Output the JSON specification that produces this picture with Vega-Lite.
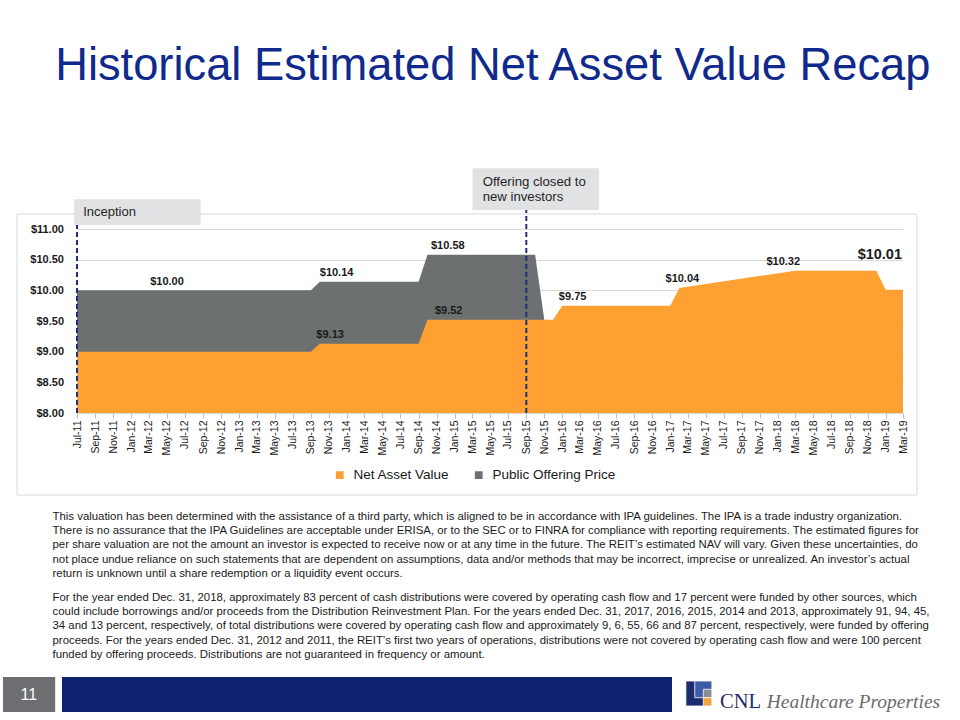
{
  "$schema": "https://vega.github.io/schema/vega-lite/v6.json",
  "width": 826,
  "height": 184,
  "autosize": {"type": "none"},
  "padding": {"left": 77, "top": 229, "right": 57, "bottom": 307},
  "background": "#ffffff",
  "resolve": {"axis": {"x": "independent", "y": "independent"}},
  "datasets": {
    "prices": [
      {"date": "2011-07-01", "series": "Public Offering Price", "price": 10.00},
      {"date": "2013-09-01", "series": "Public Offering Price", "price": 10.00},
      {"date": "2013-10-01", "series": "Public Offering Price", "price": 10.14},
      {"date": "2014-09-01", "series": "Public Offering Price", "price": 10.14},
      {"date": "2014-10-01", "series": "Public Offering Price", "price": 10.58},
      {"date": "2015-10-01", "series": "Public Offering Price", "price": 10.58},
      {"date": "2015-11-01", "series": "Public Offering Price", "price": 9.52},
      {"date": "2011-07-01", "series": "Net Asset Value", "price": 9.00},
      {"date": "2013-09-01", "series": "Net Asset Value", "price": 9.00},
      {"date": "2013-10-01", "series": "Net Asset Value", "price": 9.13},
      {"date": "2014-09-01", "series": "Net Asset Value", "price": 9.13},
      {"date": "2014-10-01", "series": "Net Asset Value", "price": 9.52},
      {"date": "2015-12-01", "series": "Net Asset Value", "price": 9.52},
      {"date": "2016-01-01", "series": "Net Asset Value", "price": 9.75},
      {"date": "2017-01-01", "series": "Net Asset Value", "price": 9.75},
      {"date": "2017-02-01", "series": "Net Asset Value", "price": 10.04},
      {"date": "2018-03-01", "series": "Net Asset Value", "price": 10.32},
      {"date": "2018-12-01", "series": "Net Asset Value", "price": 10.32},
      {"date": "2019-01-01", "series": "Net Asset Value", "price": 10.01},
      {"date": "2019-03-01", "series": "Net Asset Value", "price": 10.01}
    ],
    "labels": [
      {"date": "2012-05-01", "value": 10.00},
      {"date": "2013-11-27", "value": 10.14},
      {"date": "2014-12-09", "value": 10.58},
      {"date": "2014-12-12", "value": 9.52},
      {"date": "2013-11-05", "value": 9.13},
      {"date": "2016-02-05", "value": 9.75},
      {"date": "2017-02-11", "value": 10.04},
      {"date": "2018-01-19", "value": 10.32}
    ],
    "latest": [
      {"date": "2019-03-01", "value": 10.01}
    ],
    "events": [
      {"date": "2011-07-01", "event": "Inception"},
      {"date": "2015-09-01", "event": "Offering closed to new investors"}
    ]
  },
  "layer": [
    {
      "data": {"name": "prices"},
      "transform": [{"filter": "datum.series === 'Public Offering Price'"}],
      "mark": {"type": "area", "opacity": 1, "clip": true},
      "encoding": {
        "x": {
          "field": "date", "type": "temporal", "title": null,
          "scale": {"type": "utc", "domain": [{"year": 2011, "month": 7, "date": 1, "utc": true}, {"year": 2019, "month": 3, "date": 1, "utc": true}], "nice": false},
          "axis": {
            "title": null,
            "labelExpr": "utcFormat(datum.value, '%b-%y')",
            "tickCount": {"interval": "month", "step": 2},
            "labelAngle": -90, "labelAlign": "right", "labelBaseline": "middle",
            "labelFont": "Liberation Sans", "labelFontSize": 10.5, "labelColor": "#1a1a1a",
            "labelPadding": 2, "labelOverlap": false, "labelFlush": false, "labelBound": false,
            "tickColor": "#bfbfbf", "tickSize": 5, "domainColor": "#d9d9d9", "grid": false
          }
        },
        "y": {
          "field": "price", "type": "quantitative", "stack": null, "title": null,
          "scale": {"domain": [8, 11], "nice": false, "zero": false},
          "axis": {
            "title": null, "values": [8, 8.5, 9, 9.5, 10, 10.5, 11], "format": "$.2f",
            "labelFont": "Liberation Sans", "labelFontSize": 11, "labelFontWeight": "bold", "labelColor": "#1a1a1a",
            "labelPadding": 13.5, "domain": false, "ticks": false,
            "grid": true, "gridColor": "#d9d9d9", "gridWidth": 1
          }
        },
        "y2": {"datum": 8},
        "color": {
          "field": "series", "type": "nominal",
          "scale": {"domain": ["Net Asset Value", "Public Offering Price"], "range": ["#FFA033", "#6D7071"]},
          "legend": {
            "title": null, "orient": "none", "legendX": 256, "legendY": 239, "direction": "horizontal",
            "symbolType": "square", "symbolSize": 60, "labelFont": "Liberation Sans", "labelFontSize": 13.5,
            "labelColor": "#1a1a1a", "labelOffset": 7, "columnPadding": 22, "padding": 0
          }
        }
      }
    },
    {
      "data": {"name": "prices"},
      "transform": [{"filter": "datum.series === 'Net Asset Value'"}],
      "mark": {"type": "area", "opacity": 1, "clip": true},
      "encoding": {
        "x": {"field": "date", "type": "temporal", "axis": null},
        "y": {"field": "price", "type": "quantitative", "stack": null, "axis": null},
        "y2": {"datum": 8},
        "color": {"field": "series", "type": "nominal"}
      }
    },
    {
      "data": {"values": [{}]},
      "mark": {"type": "rect", "fill": "#ffffff", "fillOpacity": 0, "stroke": "#d9d9d9", "strokeWidth": 1, "clip": false},
      "encoding": {
        "x": {"datum": {"year": 2010, "month": 12, "date": 10, "utc": true}, "type": "temporal", "axis": null},
        "x2": {"datum": {"year": 2019, "month": 4, "date": 17, "utc": true}},
        "y": {"datum": 11.245, "type": "quantitative", "axis": null},
        "y2": {"datum": 6.663}
      }
    },
    {
      "data": {"name": "events"},
      "mark": {"type": "rule", "strokeDash": [5, 3], "strokeWidth": 2, "color": "#1F2F78", "clip": false},
      "encoding": {
        "x": {"field": "date", "type": "temporal", "axis": null},
        "y": {"datum": 8, "type": "quantitative", "axis": null},
        "y2": {"datum": 11.31}
      }
    },
    {
      "data": {"values": [{}]},
      "mark": {"type": "rect", "fill": "#E1E2E4", "clip": false},
      "encoding": {
        "x": {"datum": {"year": 2011, "month": 6, "date": 21, "utc": true}, "type": "temporal", "axis": null},
        "x2": {"datum": {"year": 2012, "month": 8, "date": 23, "utc": true}},
        "y": {"datum": 11.484, "type": "quantitative", "axis": null},
        "y2": {"datum": 11.065}
      }
    },
    {
      "data": {"values": [{}]},
      "mark": {"type": "text", "text": "Inception", "align": "left", "baseline": "middle", "fontSize": 13, "color": "#262626", "font": "Liberation Sans", "clip": false},
      "encoding": {
        "x": {"datum": {"year": 2011, "month": 7, "date": 22, "utc": true}, "type": "temporal", "axis": null},
        "y": {"datum": 11.277, "type": "quantitative", "axis": null}
      }
    },
    {
      "data": {"values": [{}]},
      "mark": {"type": "rect", "fill": "#E1E2E4", "clip": false},
      "encoding": {
        "x": {"datum": {"year": 2015, "month": 3, "date": 3, "utc": true}, "type": "temporal", "axis": null},
        "x2": {"datum": {"year": 2016, "month": 5, "date": 5, "utc": true}},
        "y": {"datum": 11.99, "type": "quantitative", "axis": null},
        "y2": {"datum": 11.31}
      }
    },
    {
      "data": {"values": [{}]},
      "mark": {"type": "text", "text": ["Offering closed to", "new investors"], "lineHeight": 15, "align": "left", "baseline": "middle", "fontSize": 13.2, "color": "#262626", "font": "Liberation Sans", "clip": false},
      "encoding": {
        "x": {"datum": {"year": 2015, "month": 4, "date": 6, "utc": true}, "type": "temporal", "axis": null},
        "y": {"datum": 11.771, "type": "quantitative", "axis": null}
      }
    },
    {
      "data": {"name": "labels"},
      "mark": {"type": "text", "fontWeight": "bold", "fontSize": 11, "dy": -8.5, "color": "#1a1a1a", "font": "Liberation Sans", "baseline": "middle", "clip": false},
      "encoding": {
        "x": {"field": "date", "type": "temporal", "axis": null},
        "y": {"field": "value", "type": "quantitative", "axis": null},
        "text": {"field": "value", "type": "quantitative", "format": "$.2f"}
      }
    },
    {
      "data": {"name": "latest"},
      "mark": {"type": "text", "fontWeight": "bold", "fontSize": 14.5, "dy": -35, "dx": -1, "align": "right", "baseline": "middle", "color": "#1a1a1a", "font": "Liberation Sans", "clip": false},
      "encoding": {
        "x": {"field": "date", "type": "temporal", "axis": null},
        "y": {"field": "value", "type": "quantitative", "axis": null},
        "text": {"field": "value", "type": "quantitative", "format": "$.2f"}
      }
    },
    {
      "data": {"values": [{}]},
      "mark": {"type": "text", "text": "Historical Estimated Net Asset Value Recap", "align": "left", "baseline": "alphabetic", "fontSize": 45.3, "color": "#102A8C", "font": "Liberation Sans", "clip": false},
      "encoding": {
        "x": {"datum": {"year": 2011, "month": 4, "date": 18, "utc": true}, "type": "temporal", "axis": null},
        "y": {"datum": 13.429, "type": "quantitative", "axis": null}
      }
    },
    {
      "data": {"values": [{}]},
      "mark": {
        "type": "text",
        "text": [
          "This valuation has been determined with the assistance of a third party, which is aligned to be in accordance with IPA guidelines. The IPA is a trade industry organization.",
          "There is no assurance that the IPA Guidelines are acceptable under ERISA, or to the SEC or to FINRA for compliance with reporting requirements. The estimated figures for",
          "per share valuation are not the amount an investor is expected to receive now or at any time in the future. The REIT’s estimated NAV will vary. Given these uncertainties, do",
          "not place undue reliance on such statements that are dependent on assumptions, data and/or methods that may be incorrect, imprecise or unrealized. An investor’s actual",
          "return is unknown until a share redemption or a liquidity event occurs."
        ],
        "lineHeight": 14.2, "align": "left", "baseline": "alphabetic", "fontSize": 11.4, "color": "#1a1a1a", "font": "Liberation Sans", "clip": false
      },
      "encoding": {
        "x": {"datum": {"year": 2011, "month": 4, "date": 9, "utc": true}, "type": "temporal", "axis": null},
        "y": {"datum": 6.255, "type": "quantitative", "axis": null}
      }
    },
    {
      "data": {"values": [{}]},
      "mark": {
        "type": "text",
        "text": [
          "For the year ended Dec. 31, 2018, approximately 83 percent of cash distributions were covered by operating cash flow and 17 percent were funded by other sources, which",
          "could include borrowings and/or proceeds from the Distribution Reinvestment Plan. For the years ended Dec. 31, 2017, 2016, 2015, 2014 and 2013, approximately 91, 94, 45,",
          "34 and 13 percent, respectively, of total distributions were covered by operating cash flow and approximately 9, 6, 55, 66 and 87 percent, respectively, were funded by offering",
          "proceeds. For the years ended Dec. 31, 2012 and 2011, the REIT’s first two years of operations, distributions were not covered by operating cash flow and were 100 percent",
          "funded by offering proceeds. Distributions are not guaranteed in frequency or amount."
        ],
        "lineHeight": 14.2, "align": "left", "baseline": "alphabetic", "fontSize": 11.4, "color": "#1a1a1a", "font": "Liberation Sans", "clip": false
      },
      "encoding": {
        "x": {"datum": {"year": 2011, "month": 4, "date": 9, "utc": true}, "type": "temporal", "axis": null},
        "y": {"datum": 4.935, "type": "quantitative", "axis": null}
      }
    },
    {
      "data": {"values": [{}]},
      "mark": {"type": "rect", "fill": "#6D6E71", "clip": false},
      "encoding": {
        "x": {"datum": {"year": 2010, "month": 10, "date": 23, "utc": true}, "type": "temporal", "axis": null},
        "x2": {"datum": {"year": 2011, "month": 4, "date": 18, "utc": true}},
        "y": {"datum": 3.696, "type": "quantitative", "axis": null},
        "y2": {"datum": 3.125}
      }
    },
    {
      "data": {"values": [{}]},
      "mark": {"type": "text", "text": "11", "align": "center", "baseline": "middle", "fontSize": 16, "color": "#ffffff", "font": "Liberation Sans", "clip": false},
      "encoding": {
        "x": {"datum": {"year": 2011, "month": 1, "date": 19, "utc": true}, "type": "temporal", "axis": null},
        "y": {"datum": 3.41, "type": "quantitative", "axis": null}
      }
    },
    {
      "data": {"values": [{}]},
      "mark": {"type": "rect", "fill": "#0F206E", "clip": false},
      "encoding": {
        "x": {"datum": {"year": 2011, "month": 5, "date": 11, "utc": true}, "type": "temporal", "axis": null},
        "x2": {"datum": {"year": 2017, "month": 1, "date": 7, "utc": true}},
        "y": {"datum": 3.696, "type": "quantitative", "axis": null},
        "y2": {"datum": 3.125}
      }
    },
    {
      "data": {"values": [{}]},
      "mark": {"type": "rect", "fill": "#1E2A6E", "stroke": "#ffffff", "strokeWidth": 0.8, "clip": false},
      "encoding": {
        "x": {"datum": {"year": 2017, "month": 2, "date": 23, "utc": true}, "type": "temporal", "axis": null},
        "x2": {"datum": {"year": 2017, "month": 5, "date": 22, "utc": true}},
        "y": {"datum": 3.630, "type": "quantitative", "axis": null},
        "y2": {"datum": 3.223}
      }
    },
    {
      "data": {"values": [{}]},
      "mark": {"type": "rect", "fill": "#3E5BAA", "stroke": "#ffffff", "strokeWidth": 0.8, "clip": false},
      "encoding": {
        "x": {"datum": {"year": 2017, "month": 3, "date": 25, "utc": true}, "type": "temporal", "axis": null},
        "x2": {"datum": {"year": 2017, "month": 5, "date": 22, "utc": true}},
        "y": {"datum": 3.630, "type": "quantitative", "axis": null},
        "y2": {"datum": 3.358}
      }
    },
    {
      "data": {"values": [{}]},
      "mark": {"type": "rect", "fill": "#8C8D90", "stroke": "#ffffff", "strokeWidth": 0.8, "clip": false},
      "encoding": {
        "x": {"datum": {"year": 2017, "month": 4, "date": 23, "utc": true}, "type": "temporal", "axis": null},
        "x2": {"datum": {"year": 2017, "month": 5, "date": 22, "utc": true}},
        "y": {"datum": 3.495, "type": "quantitative", "axis": null},
        "y2": {"datum": 3.358}
      }
    },
    {
      "data": {"values": [{}]},
      "mark": {"type": "rect", "fill": "#F6A23B", "stroke": "#ffffff", "strokeWidth": 0.8, "clip": false},
      "encoding": {
        "x": {"datum": {"year": 2017, "month": 4, "date": 23, "utc": true}, "type": "temporal", "axis": null},
        "x2": {"datum": {"year": 2017, "month": 5, "date": 22, "utc": true}},
        "y": {"datum": 3.358, "type": "quantitative", "axis": null},
        "y2": {"datum": 3.223}
      }
    },
    {
      "data": {"values": [{}]},
      "mark": {"type": "text", "text": "CNL", "align": "left", "baseline": "alphabetic", "fontSize": 20.5, "color": "#1F2B6B", "font": "Liberation Serif", "clip": false},
      "encoding": {
        "x": {"datum": {"year": 2017, "month": 6, "date": 19, "utc": true}, "type": "temporal", "axis": null},
        "y": {"datum": 3.198, "type": "quantitative", "axis": null}
      }
    },
    {
      "data": {"values": [{}]},
      "mark": {"type": "text", "text": "Healthcare Properties", "align": "left", "baseline": "alphabetic", "fontSize": 19.5, "fontStyle": "italic", "color": "#6B6B6B", "font": "Liberation Serif", "clip": false},
      "encoding": {
        "x": {"datum": {"year": 2017, "month": 11, "date": 24, "utc": true}, "type": "temporal", "axis": null},
        "y": {"datum": 3.198, "type": "quantitative", "axis": null}
      }
    }
  ],
  "config": {
    "view": {"stroke": null},
    "font": "Liberation Sans"
  }
}
